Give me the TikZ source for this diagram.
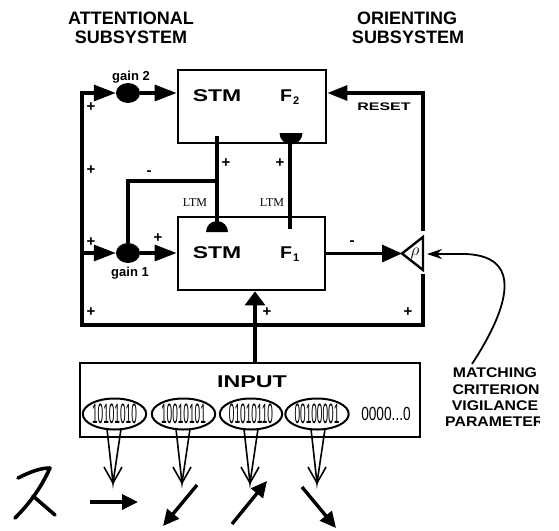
\documentclass[tikz,border=0pt]{standalone}
\usepackage{fontspec}
\setmainfont{Liberation Sans}
\newfontfamily\ltmfont{Liberation Serif}
\usetikzlibrary{arrows.meta,shapes.geometric}
\newcommand\xs[2]{\scalebox{#1}[1]{#2}}
\begin{document}
\begin{tikzpicture}[x=1pt,y=-1pt,
  wire/.style={line width=3.2pt},
  thinw/.style={line width=1.6pt},
  stroke/.style={line width=3.6pt,line cap=round},
  box/.style={draw,line width=2.8pt,inner sep=0pt},
  gainnode/.style={ellipse,fill,minimum width=24pt,minimum height=20pt,inner sep=0pt},
  bighead/.style={-{Triangle[length=22pt,width=16pt]}},
  revhead/.style={{Triangle[length=22pt,width=16pt]}-},
  title/.style={font=\bfseries\fontsize{18}{18}\selectfont,inner sep=0pt},
  stm/.style={font=\bfseries\fontsize{17}{17}\selectfont,inner sep=0pt},
  small/.style={font=\bfseries\fontsize{13}{13}\selectfont,inner sep=0pt},
  pl/.style={font=\bfseries\fontsize{15}{15}\selectfont,inner sep=0pt},
  ltm/.style={font=\ltmfont\fontsize{12}{12}\selectfont,inner sep=0pt},
  vig/.style={font=\bfseries\fontsize{14}{14}\selectfont,inner sep=0pt},
  ell/.style={draw,ellipse,line width=2pt,minimum width=55pt,minimum height=31pt,inner sep=0pt},
  feat/.style={line width=3.4pt,-{Triangle[length=16pt,width=15pt]}}
]
\useasboundingbox (0,0) rectangle (559,530);

% titles
\node[title] (t1a) at (131,18) {ATTENTIONAL};
\node[title] (t1b) at (131,37) {SUBSYSTEM};
\node[title] (t2a) at (407,18) {ORIENTING};
\node[title] (t2b) at (408,37) {SUBSYSTEM};

% F2 and F1 boxes
\node[box,minimum width=148pt,minimum height=73pt] (f2) at (252,106.5) {};
\node[box,minimum width=147pt,minimum height=73pt] (f1) at (251.5,253.5) {};
\node[stm] (s2) at (217,96) {\xs{1.35}{STM}};
\node[stm,anchor=west] (fl2) at (280,97) {\xs{1.15}{F}\kern1pt\raisebox{-3pt}{\fontsize{11}{11}\selectfont 2}};
\node[stm] (s1) at (217,253) {\xs{1.35}{STM}};
\node[stm,anchor=west] (fl1) at (280,254) {\xs{1.15}{F}\kern1pt\raisebox{-3pt}{\fontsize{11}{11}\selectfont 1}};

% gain nodes
\node[gainnode] (g2) at (128,93) {};
\node[gainnode] (g1) at (128,253) {};
\node[small] (lg2) at (131,77) {gain 2};
\node[small] (lg1) at (130,273) {gain 1};

% loop coordinates
\coordinate (lt) at (82,93);
\coordinate (lm) at (82,253);
\coordinate (lb) at (82,325);
\coordinate (rb) at (423,325);
\coordinate (rlow) at (423,274);
\coordinate (rup) at (423,231);
\coordinate (rt) at (423,93);

\draw[wire,revhead] (g2.west) -- (lt) -- (lb) -- (rb) -- (rlow);
\draw[wire,-{Triangle[length=20pt,width=15pt]}] (rup) -- (rt) -- (rt -| f2.east);
\draw[wire,bighead] (g2.east) -- (g2 -| f2.west);
\draw[wire,bighead] (lm) -- (g1.west);
\draw[wire,bighead] (g1.east) -- (g1 -| f1.west);

% F2 -> F1 (top-down) with LTM dome
\coordinate (a2) at (217,136);
\coordinate (a1) at (217,224);
\draw[wire] (a2) -- (a1);
\fill (206,232) arc[start angle=180,end angle=360,radius=11] -- cycle;
% F1 -> F2 with LTM dome
\coordinate (b1) at (290,229);
\coordinate (b2) at (290,140);
\draw[wire] (b1) -- (b2);
\fill (279.5,133) arc[start angle=180,end angle=0,radius=11.5] -- cycle;
% branch to gain 1
\coordinate (br) at (217,181);
\draw[wire] (br) -- (br -| g1) -- (g1.north);

% F1 -> orienting triangle
\coordinate (tip) at (402,253.5);
\draw[wire,-{Triangle[length=20pt,width=17pt]}] (f1.east) -- (tip);
\draw[line width=2.4pt,line join=miter] (tip) -- (423,237) -- (423,270) -- cycle;
\node[font=\fontsize{17}{17}\selectfont,inner sep=0pt] (rho) at (415,253) {$\rho$};

% vigilance
\coordinate (vc) at (472,364);
\coordinate (vt) at (427,254);
\draw[line width=1.8pt,-{Stealth[length=15pt,width=10pt]}] (vc) .. controls (502,318) and (530,256) .. (465,254) -- (vt);
\begin{scope}
\clip (430,360) rectangle (539,432);
\node[vig] (m1) at (495,373) {\xs{1.13}{MATCHING}};
\node[vig] (m2) at (496,390) {\xs{1.13}{CRITERION}};
\node[vig] (m3) at (495,406) {\xs{1.13}{VIGILANCE}};
\node[vig,anchor=west] (m4) at (445,422) {\xs{1.13}{PARAMETER}};
\end{scope}

% RESET
\node[small,font=\bfseries\fontsize{11}{11}\selectfont] (rs) at (384,107) {\xs{1.45}{RESET}};

% signs
\node[pl] (p1) at (91,107) {+};
\node[pl] (p2) at (91,170) {+};
\node[pl] (p3) at (91,242) {+};
\node[pl] (p4) at (91,312) {+};
\node[pl] (p5) at (158,238) {+};
\node[pl] (p6) at (226,163) {+};
\node[pl] (p7) at (280,163) {+};
\node[pl] (p8) at (267,312) {+};
\node[pl] (p9) at (408,312) {+};
\node[pl] (n1) at (149,173) {-};
\node[pl] (n2) at (352,243) {-};

% LTM labels
\node[ltm] (ltm1) at (195,203) {LTM};
\node[ltm] (ltm2) at (272,203) {LTM};

% input box
\node[box,minimum width=340pt,minimum height=74pt] (inp) at (250,400) {};
\node[stm] (inl) at (252,382) {\xs{1.37}{INPUT}};
\coordinate (ia) at (255,363);
\draw[wire,-{Triangle[length=14pt,width=20pt]}] (ia) -- (ia |- f1.south);

% input patterns
\node[ell] (e1) at (114.5,414) {\xs{0.36}{\fontsize{28}{28}\selectfont 10101010}};
\node[ell] (e2) at (183.5,414) {\xs{0.36}{\fontsize{28}{28}\selectfont 10010101}};
\node[ell] (e3) at (251,414) {\xs{0.36}{\fontsize{28}{28}\selectfont 01010110}};
\node[ell] (e4) at (317,414) {\xs{0.36}{\fontsize{28}{28}\selectfont 00100001}};
\node[inner sep=0pt] (e5) at (386,414) {\xs{0.72}{\fontsize{19}{19}\selectfont 0000...0}};

\foreach \i/\cx in {1/114,2/183,3/251,4/318}{
  \coordinate (dl\i) at (\cx-7,429);
  \coordinate (dr\i) at (\cx+7,429);
  \coordinate (dt\i) at (\cx-1,483);
  \coordinate (wl\i) at (\cx-10,467);
  \coordinate (wr\i) at (\cx+8,467);
  \draw[thinw] (dl\i) -- (dt\i) -- (dr\i);
  \draw[thinw] (wl\i) -- (dt\i) -- (wr\i);
}

% letter strokes
\coordinate (k1) at (18,478);
\coordinate (k2) at (50,468);
\coordinate (k3) at (15,518);
\coordinate (k4) at (33,496);
\coordinate (k5) at (55,515);
\draw[stroke,line join=round] (k1) .. controls (30,472) and (40,468) .. (k2) .. controls (40,490) and (28,505) .. (k3);
\draw[stroke] (k4) -- (k5);

% oriented features
\coordinate (o1a) at (90,502);  \coordinate (o1b) at (138,502);
\coordinate (o2a) at (197,485); \coordinate (o2b) at (163,526);
\coordinate (o3a) at (232,524); \coordinate (o3b) at (267,481);
\coordinate (o4a) at (302,487); \coordinate (o4b) at (336,528);
\draw[feat] (o1a) -- (o1b);
\draw[feat] (o2a) -- (o2b);
\draw[feat] (o3a) -- (o3b);
\draw[feat] (o4a) -- (o4b);
\end{tikzpicture}
\end{document}
